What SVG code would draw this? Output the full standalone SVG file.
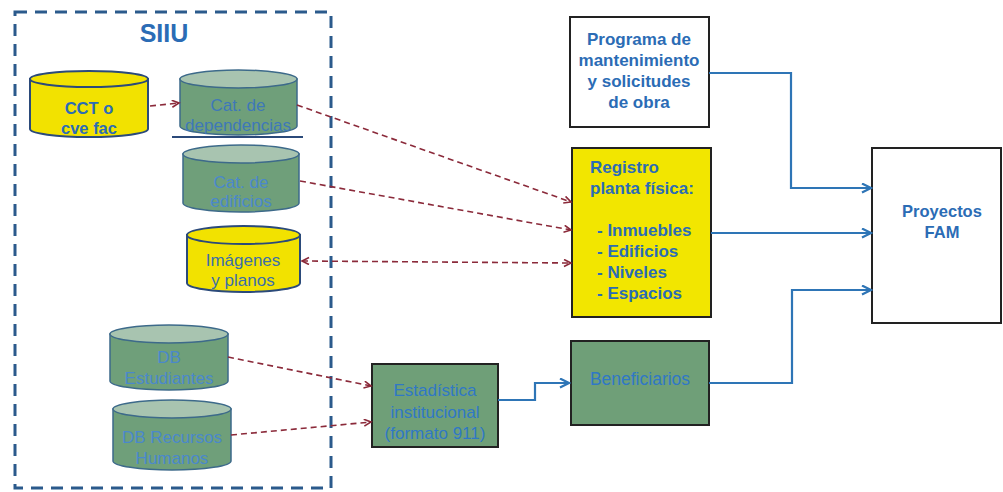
<svg xmlns="http://www.w3.org/2000/svg" width="1003" height="492" viewBox="0 0 1003 492">
<style>
text{font-family:"Liberation Sans",Arial,sans-serif;text-anchor:middle}
.b{font-weight:bold;fill:#2b6cb5;font-size:17px}
.g{fill:#4a88cc;font-size:17px}
.gd{fill:#3e78b8;font-size:17px}
.cylY{fill:#f2e200;stroke:#2b4a7a;stroke-width:2}
.cylG{fill:#6f9f7a;stroke:#3d6a8a;stroke-width:1.5}
.topG{fill:#a8c4b0;stroke:#3d6a8a;stroke-width:1.5}
.box{stroke:#222;stroke-width:2}
.red{fill:none;stroke:#8b2a3a;stroke-width:1.6;stroke-dasharray:6 4}
.blue{fill:none;stroke:#2e75b6;stroke-width:2.2}
</style>
<defs>
<marker id="ar" markerWidth="10" markerHeight="10" refX="8" refY="4" orient="auto" markerUnits="userSpaceOnUse"><path d="M1,0.5 L8,4 L1,7.5" fill="none" stroke="#8b2a3a" stroke-width="1.6"/></marker>
<marker id="arS" markerWidth="10" markerHeight="10" refX="8" refY="4" orient="auto-start-reverse" markerUnits="userSpaceOnUse"><path d="M1,0.5 L8,4 L1,7.5" fill="none" stroke="#8b2a3a" stroke-width="1.6"/></marker>
<marker id="ab" markerWidth="12" markerHeight="12" refX="10" refY="5" orient="auto" markerUnits="userSpaceOnUse"><path d="M1,0.5 L10,5 L1,9.5" fill="none" stroke="#2e75b6" stroke-width="2.2"/></marker>
</defs>
<rect width="1003" height="492" fill="#fff"/>

<g id="siiu">
<rect x="15" y="12" width="316" height="476" fill="none" stroke="#2b5a8c" stroke-width="3" stroke-dasharray="12 8"/>
<text x="164" y="42" style="font-weight:bold;font-size:25px;fill:#2b6cb5">SIIU</text>
</g>

<g id="cct">
<path class="cylY" d="M30,79 V129 A59,8 0 0 0 148,129 V79 Z"/>
<ellipse class="cylY" cx="89" cy="79" rx="59" ry="8"/>
<text class="b" x="89" y="114" style="font-size:16.5px">CCT o</text>
<text class="b" x="89" y="134" style="font-size:16.5px">cve fac</text>
</g>

<g id="cat-dependencias">
<path class="cylG" d="M180,79 V126 A58.5,9 0 0 0 297,126 V79 Z"/>
<ellipse class="topG" cx="238.5" cy="79" rx="58.5" ry="9"/>
<line x1="172" y1="137" x2="303" y2="137" stroke="#2b4a7a" stroke-width="2"/>
<text class="gd" x="238" y="111">Cat. de</text>
<text class="gd" x="238" y="131">dependencias</text>
</g>

<g id="cat-edificios">
<path class="cylG" d="M183,154 V203 A58,9 0 0 0 299,203 V154 Z"/>
<ellipse class="topG" cx="241" cy="154" rx="58" ry="9"/>
<text class="g" x="241" y="188">Cat. de</text>
<text class="g" x="241" y="207">edificios</text>
</g>

<g id="imagenes">
<path class="cylY" d="M187,235 V283 A56.5,9 0 0 0 300,283 V235 Z"/>
<ellipse class="cylY" cx="243.5" cy="235" rx="56.5" ry="9"/>
<text class="gd" x="243" y="266" style="fill:#3c6fa8">Imágenes</text>
<text class="gd" x="243" y="286" style="fill:#3c6fa8">y planos</text>
</g>

<g id="db-estudiantes">
<path class="cylG" d="M110,334 V381 A59,9 0 0 0 228,381 V334 Z"/>
<ellipse class="topG" cx="169" cy="334" rx="59" ry="9"/>
<text class="g" x="169" y="363">DB</text>
<text class="g" x="169" y="384">Estudiantes</text>
</g>

<g id="db-recursos">
<path class="cylG" d="M113,409 V461 A59,9 0 0 0 231,461 V409 Z"/>
<ellipse class="topG" cx="172" cy="409" rx="59" ry="9"/>
<text class="g" x="172" y="443">DB Recursos</text>
<text class="g" x="172" y="464">Humanos</text>
</g>

<g id="programa">
<rect class="box" x="570" y="17" width="139" height="110" fill="#fff"/>
<text class="b" x="639" y="45">Programa de</text>
<text class="b" x="639" y="66">mantenimiento</text>
<text class="b" x="639" y="87">y solicitudes</text>
<text class="b" x="639" y="108">de obra</text>
</g>

<g id="registro">
<rect class="box" x="572" y="148" width="139" height="169" fill="#f2e600"/>
<text class="b" x="590" y="173" style="text-anchor:start">Registro</text>
<text class="b" x="590" y="194" style="text-anchor:start">planta física:</text>
<text class="b" x="597" y="236" style="text-anchor:start">- Inmuebles</text>
<text class="b" x="597" y="257" style="text-anchor:start">- Edificios</text>
<text class="b" x="597" y="278" style="text-anchor:start">- Niveles</text>
<text class="b" x="597" y="299" style="text-anchor:start">- Espacios</text>
</g>

<g id="estadistica">
<rect class="box" x="372" y="364" width="126" height="83" fill="#6f9f78"/>
<text x="435" y="396" style="font-size:17px;fill:#2f78c6">Estadística</text>
<text x="435" y="418" style="font-size:17px;fill:#2f78c6">institucional</text>
<text x="435" y="439" style="font-size:17px;fill:#2f78c6">(formato 911)</text>
</g>

<g id="beneficiarios">
<rect class="box" x="571" y="341" width="138" height="84" fill="#6f9f78"/>
<text x="640" y="385" style="font-size:17.5px;fill:#2f78c6">Beneficiarios</text>
</g>

<g id="proyectos">
<rect class="box" x="872" y="148" width="129" height="175" fill="#fff"/>
<text class="b" x="942" y="217" style="font-size:16.5px">Proyectos</text>
<text class="b" x="942" y="238" style="font-size:16.5px">FAM</text>
</g>

<g id="connectors">
<line class="red" x1="150" y1="106" x2="179" y2="103" marker-end="url(#ar)"/>
<line class="red" x1="297" y1="105" x2="571" y2="202" marker-end="url(#ar)"/>
<line class="red" x1="300" y1="181" x2="571" y2="230" marker-end="url(#ar)"/>
<line class="red" x1="302" y1="261" x2="571" y2="263" marker-start="url(#arS)" marker-end="url(#arS)"/>
<line class="red" x1="228" y1="357" x2="371" y2="386" marker-end="url(#ar)"/>
<line class="red" x1="231" y1="435" x2="371" y2="422" marker-end="url(#ar)"/>
<path class="blue" d="M498,400 H535 V383 H569" marker-end="url(#ab)"/>
<path class="blue" d="M709,73 H791 V188 H871" marker-end="url(#ab)"/>
<path class="blue" d="M711,233 H871" marker-end="url(#ab)"/>
<path class="blue" d="M709,383 H792 V290 H871" marker-end="url(#ab)"/>
</g>
</svg>
